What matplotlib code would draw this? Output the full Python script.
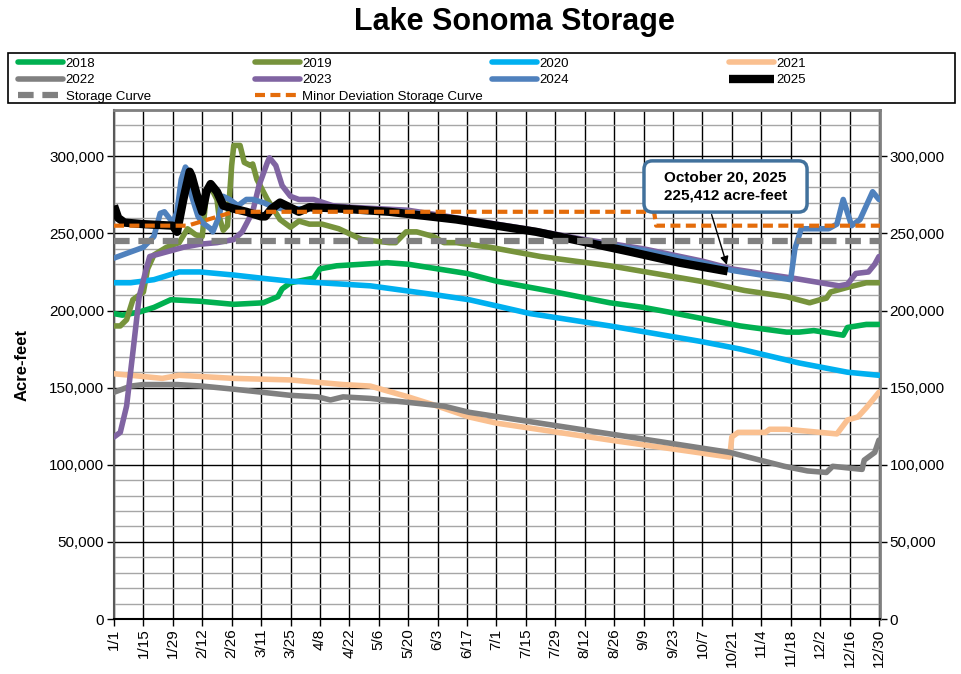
import numpy as np
import matplotlib.pyplot as plt
from matplotlib.patches import FancyBboxPatch, Rectangle
from matplotlib.ticker import MultipleLocator, FuncFormatter

plt.rcParams['font.family'] = ['Liberation Sans', 'DejaVu Sans']

# x axis labels, one every 14 days starting 1/1
tickLabels = ["1/1", "1/15", "1/29", "2/12", "2/26", "3/11", "3/25", "4/8", "4/22",
              "5/6", "5/20", "6/3", "6/17", "7/1", "7/15", "7/29", "8/12", "8/26",
              "9/9", "9/23", "10/7", "10/21", "11/4", "11/18", "12/2", "12/16", "12/30"]
tickDays = np.arange(len(tickLabels)) * 14

# storage by day of year (acre-feet)
days2018 = [0, 4, 12, 19, 27, 41, 57, 71, 78, 80, 84, 95, 98, 106, 118, 130, 140, 154,
            168, 182, 210, 236, 252, 264, 279, 298, 320, 326, 333, 347, 349, 358, 364]
vals2018 = [198000, 197000, 199000, 202000, 207000, 206000, 204000, 205000, 209000,
            214000, 218000, 221000, 227000, 229000, 230000, 231000, 230000, 227000,
            224000, 219000, 212000, 205000, 202000, 199000, 195000, 190000, 186000,
            186000, 187000, 184000, 189000, 191000, 191000]

days2019 = [0, 3, 6, 9, 14, 16, 19, 25, 31, 35, 39, 42, 44, 46, 49, 50, 52, 54, 56, 57,
            60, 62, 65, 66, 68, 73, 79, 84, 88, 93, 99, 107, 118, 131, 134, 139, 144,
            152, 157, 163, 179, 203, 236, 279, 300, 320, 331, 336, 339, 341, 349, 358, 364]
vals2019 = [190000, 190000, 194000, 207000, 212000, 227000, 236000, 241000, 244000,
            253000, 249000, 248000, 276000, 280000, 272000, 261000, 252000, 255000,
            294000, 307000, 307000, 296000, 294000, 295000, 285000, 272000, 259000,
            254000, 258000, 256000, 256000, 253000, 246000, 244000, 244000, 251000,
            251000, 248000, 244000, 244000, 241000, 235000, 229000, 219000, 213000,
            209000, 205000, 207000, 208000, 212000, 215000, 218000, 218000]

days2020 = [0, 8, 19, 31, 41, 57, 70, 84, 98, 122, 154, 169, 182, 198, 236, 279, 298,
            326, 349, 364]
vals2020 = [218000, 218000, 220000, 225000, 225000, 223000, 221000, 219000, 218000,
            216000, 210000, 207000, 203000, 198000, 190000, 180000, 175000, 166000,
            160000, 158000]

days2021 = [0, 8, 23, 31, 57, 84, 109, 122, 140, 154, 169, 182, 236, 293, 294, 297,
            310, 312, 320, 344, 349, 354, 358, 364]
vals2021 = [159000, 158000, 156000, 158000, 156000, 155000, 152000, 151000, 144000,
            138000, 131000, 127000, 116000, 105000, 118000, 121000, 121000, 123000,
            123000, 120000, 129000, 131000, 137000, 147000]

days2022 = [0, 8, 14, 30, 42, 57, 84, 97, 103, 109, 122, 157, 169, 236, 293, 319, 330,
            339, 342, 356, 357, 362, 364]
vals2022 = [147000, 151000, 152000, 152000, 151000, 149000, 145000, 144000, 142000,
            144000, 143000, 138000, 134000, 120000, 108000, 99000, 96000, 95000, 99000,
            97000, 103000, 108000, 116000]

days2023 = [0, 3, 6, 9, 12, 15, 17, 25, 33, 41, 49, 57, 61, 66, 69, 73, 74, 77, 80, 84,
            88, 95, 104, 112, 140, 168, 196, 224, 252, 280, 294, 308, 323, 345, 349,
            353, 359, 362, 364]
vals2023 = [118000, 121000, 138000, 173000, 209000, 225000, 235000, 238000, 241000,
            243000, 244000, 246000, 251000, 264000, 281000, 296000, 299000, 294000,
            281000, 274000, 272000, 272000, 268000, 267000, 265000, 259000, 253000,
            246000, 240000, 232000, 227000, 224000, 221000, 216000, 217000, 224000,
            225000, 230000, 235000]

days2024 = [0, 8, 14, 19, 22, 24, 28, 30, 32, 34, 35, 37, 40, 42, 46, 47, 50, 52, 55,
            59, 63, 66, 71, 76, 80, 98, 112, 140, 168, 196, 224, 252, 280, 294, 308,
            322, 324, 327, 340, 344, 347, 351, 355, 361, 364]
vals2024 = [234000, 238000, 241000, 248000, 263000, 264000, 257000, 264000, 285000,
            293000, 291000, 274000, 261000, 257000, 253000, 251000, 261000, 274000,
            272000, 268000, 272000, 272000, 270000, 267000, 266000, 266000, 266000,
            264000, 258000, 252000, 245000, 239000, 231000, 226000, 223000, 220000,
            240000, 253000, 253000, 256000, 272000, 255000, 259000, 277000, 272000]

days2025 = [0, 2, 5, 14, 28, 30, 33, 36, 37, 40, 42, 44, 46, 49, 52, 57, 63, 70, 72,
            75, 79, 82, 88, 93, 109, 131, 163, 201, 222, 246, 269, 292]
vals2025 = [268000, 260000, 257000, 256000, 255000, 251000, 272000, 290000, 287000,
            272000, 264000, 277000, 282000, 277000, 268000, 266000, 264000, 261000,
            261000, 266000, 270000, 268000, 264000, 267000, 266000, 264000, 259000,
            251000, 245000, 238000, 231000, 225412]

storageDays = [0, 365]
storageVals = [245000, 245000]

minorDevDays = [0, 35, 57, 257, 258, 365]
minorDevVals = [255000, 255000, 264000, 264000, 255000, 255000]

years = [
    ("2018", days2018, vals2018, "#00B050"),
    ("2019", days2019, vals2019, "#77933C"),
    ("2020", days2020, vals2020, "#00B0F0"),
    ("2021", days2021, vals2021, "#FAC090"),
    ("2022", days2022, vals2022, "#808080"),
    ("2023", days2023, vals2023, "#8064A2"),
    ("2024", days2024, vals2024, "#4F81BD"),
]

fig = plt.figure(figsize=(9.61, 6.74), dpi=100)
ax = fig.add_axes([0.1186, 0.0816, 0.7971, 0.7552])

handles = {}
for name, d, v, c in years:
    handles[name], = ax.plot(d, v, color=c, lw=4.0, solid_capstyle='round', zorder=3)
handles["2025"], = ax.plot(days2025, vals2025, color="black", lw=6.0,
                           solid_capstyle='butt', zorder=4)
handles["Storage Curve"], = ax.plot(storageDays, storageVals, color="#808080", lw=4.5,
                                    dashes=(2.5, 1.4), zorder=5)
handles["Minor Deviation Storage Curve"], = ax.plot(minorDevDays, minorDevVals,
                                                    color="#E46C0A", lw=3.0,
                                                    dashes=(2.4, 1.3), zorder=5)

# axes, ticks and grid
ax.set_xlim(0, 364.5)
ax.set_ylim(0, 330000)
ax.set_xticks(tickDays)
ax.set_xticklabels(tickLabels, rotation=90)
ax.yaxis.set_major_locator(MultipleLocator(50000))
ax.yaxis.set_minor_locator(MultipleLocator(10000))
ax.yaxis.set_major_formatter(FuncFormatter(lambda v, p: f"{int(v):,}"))
ax.tick_params(axis='both', which='major', labelsize=11, length=5, width=1,
               color='black', pad=2)
ax.tick_params(axis='y', which='major', right=True, labelright=True)
ax.tick_params(axis='y', which='minor', length=0)
ax.set_axisbelow(True)
ax.grid(True, which='major', axis='both', color='black', lw=1.0)
ax.grid(True, which='minor', axis='y', color='#A6A6A6', lw=1.0)
for side in ['top', 'right']:
    ax.spines[side].set_color('#808080')
    ax.spines[side].set_linewidth(2)
ax.spines['left'].set_color('#595959')
ax.spines['left'].set_linewidth(1.5)
ax.spines['bottom'].set_linewidth(1.5)

fig.text(0.535, 1 - 22 / 674, "Lake Sonoma Storage", ha='center', va='center',
         fontsize=22, fontweight='bold')
fig.text(22 / 961, 1 - 365 / 674, "Acre-feet", ha='center', va='center',
         rotation=90, fontsize=12, fontweight='bold')

# callout for the latest reading
lastDay, lastVal = days2025[-1], vals2025[-1]
boxX, boxY = lastDay - 1, lastVal + 55000
aspect = 1365
box = FancyBboxPatch((boxX - 38.8, boxY - 16600), 77.6, 33200,
                     boxstyle='round,pad=0,rounding_size=4', mutation_aspect=aspect,
                     fc='white', ec='#41719C', lw=2.5, zorder=7)
ax.add_patch(box)
ax.text(boxX, boxY, "October 20, 2025\n225,412 acre-feet", ha='center', va='center',
        fontsize=11, fontweight='bold', linespacing=1.4, zorder=8)
ax.annotate("", xy=(lastDay, lastVal + 2500), xytext=(lastDay - 8, lastVal + 38500),
            arrowprops=dict(arrowstyle='-|>', color='black', lw=1, mutation_scale=12),
            zorder=8)

# legend: four evenly spaced columns inside one frame
columns = [["2018", "2022", "Storage Curve"],
           ["2019", "2023", "Minor Deviation Storage Curve"],
           ["2020", "2024"],
           ["2021", "2025"]]
colStarts = [18, 255, 492, 729]
for names, x0 in zip(columns, colStarts):
    leg = fig.legend([handles[k] for k in names], names, loc='upper left',
                     bbox_to_anchor=(x0 / 961, 1 - 57.5 / 674), fontsize=9.5,
                     handlelength=3.4, handletextpad=0.2, labelspacing=0.33,
                     borderpad=0, borderaxespad=0, frameon=False)
fig.add_artist(Rectangle((8 / 961, 1 - 103 / 674), 947 / 961, 50 / 674,
                         transform=fig.transFigure, fill=False, ec='black', lw=1.2))

fig.savefig("out.png", dpi=100)
